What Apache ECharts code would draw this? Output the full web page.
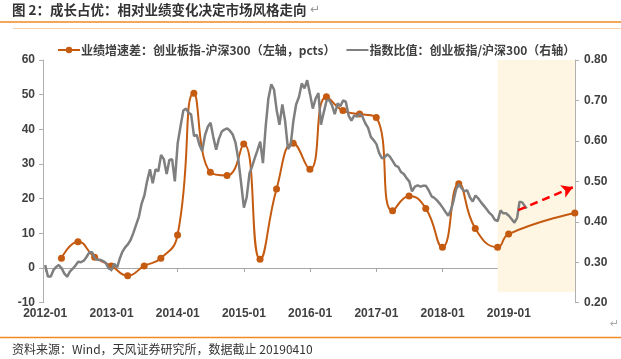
<!DOCTYPE html>
<html><head><meta charset="utf-8">
<script src="https://cdn.jsdelivr.net/npm/echarts@6/dist/echarts.min.js"></script>
<style>html,body{margin:0;padding:0;background:#fff}#c{width:621px;height:359px}</style>
</head><body><div id="c"></div>
<script>
// ---- data ----
const titleText = '图 2：成长占优：相对业绩变化决定市场风格走向';
const sourceText = '资料来源：Wind，天风证券研究所，数据截止 20190410';
const seriesNames = ['业绩增速差：创业板指-沪深300（左轴，pcts）', '指数比值：创业板指/沪深300（右轴）'];

const orangeDates = ['2012-03-31','2012-06-30','2012-09-30','2012-12-31',
  '2013-03-31','2013-06-30','2013-09-30','2013-12-31',
  '2014-03-31','2014-06-30','2014-09-30','2014-12-31',
  '2015-03-31','2015-06-30','2015-09-30','2015-12-31',
  '2016-03-31','2016-06-30','2016-09-30','2016-12-31',
  '2017-03-31','2017-06-30','2017-09-30','2017-12-31',
  '2018-03-31','2018-06-30','2018-10-31','2018-12-31','2019-12-31'];
const orangeValues = [2.8,7.6,3.1,0.6,
  -2.2,0.6,2.8,9.5,
  50.4,27.6,26.7,35.8,
  2.5,22.8,36.0,28.5,
  49.4,45.4,44.4,43.4,
  16.5,20.8,17.2,6.0,
  24.3,11.4,6.0,9.8,15.9];

// ratio, sampled on the 1st and 16th of each month from 2012-01-01, plus the last day
const grayStartYear = 2012;
const grayLastDate = '2019-04-10';
const grayValues = [
  0.293,0.265,0.265,0.281,0.288,0.293,0.285,0.272,0.264,0.277,
  0.284,0.292,0.301,0.300,0.304,0.313,0.325,0.325,0.310,0.306,
  0.306,0.303,0.298,0.285,0.281,0.296,0.287,0.310,0.325,0.336,
  0.344,0.355,0.372,0.392,0.413,0.445,0.465,0.500,0.530,0.495,
  0.530,0.525,0.565,0.555,0.518,0.553,0.555,0.500,0.595,0.635,
  0.675,0.680,0.670,0.665,0.612,0.615,0.590,0.575,0.615,0.635,
  0.645,0.610,0.578,0.605,0.623,0.628,0.631,0.625,0.615,0.595,
  0.555,0.498,0.435,0.460,0.520,0.538,0.556,0.576,0.598,0.545,
  0.635,0.705,0.740,0.727,0.675,0.640,0.690,0.650,0.580,0.590,
  0.650,0.690,0.709,0.742,0.730,0.750,0.715,0.680,0.705,0.718,
  0.640,0.670,0.700,0.701,0.688,0.666,0.693,0.686,0.700,0.697,
  0.662,0.650,0.663,0.660,0.667,0.660,0.643,0.632,0.610,0.602,
  0.592,0.570,0.557,0.560,0.567,0.561,0.550,0.539,0.536,0.523,
  0.518,0.508,0.500,0.475,0.487,0.490,0.487,0.489,0.489,0.478,
  0.463,0.459,0.453,0.445,0.435,0.425,0.415,0.430,0.450,0.480,
  0.493,0.483,0.475,0.478,0.460,0.450,0.465,0.458,0.448,0.440,
  0.431,0.422,0.416,0.405,0.402,0.428,0.421,0.421,0.415,0.407,
  0.398,0.410,0.450,0.448,0.438,
  0.433];

const yearTicks = [2012,2013,2014,2015,2016,2017,2018,2019];
const leftAxis = {min: -10, max: 60, interval: 10};
const rightAxis = {min: 0.2, max: 0.8, interval: 0.1};
const xRange = ['2011-12-20', '2020-01-01'];
const shade = {from: '2018-10-31', to: '2020-01-01', bottom: -7, top: 60};
const arrowFrom = ['2019-02-22', 16.7];
const arrowTo = ['2019-12-20', 23.3];

// ---- build ----
function pad(n){return (n<10?'0':'')+n;}
function ts(s){const p = s.split('-').map(Number); return Date.UTC(p[0], p[1]-1, p[2]);}
const grayDates = [];
for (let k = 0; k < grayValues.length - 1; k++) {
  const y = grayStartYear + Math.floor(k / 24);
  const m = Math.floor((k % 24) / 2) + 1;
  const d = (k % 2) ? 16 : 1;
  grayDates.push(y + '-' + pad(m) + '-' + pad(d));
}
grayDates.push(grayLastDate);

const grayData = grayValues.map((v, i) => [ts(grayDates[i]), v]);
const orangeData = orangeValues.map((v, i) => [ts(orangeDates[i]), v]);
const tickTimes = yearTicks.map(y => Date.UTC(y, 0, 1));
const xMin = ts(xRange[0]), xMax = ts(xRange[1]);

const ORANGE = '#C55A11', GRAY = '#7F7F7F', TXT = '#404040', AX = '#B0B0B0';
const numFont = "'Liberation Sans', Arial, sans-serif";
const cjkFont = "'Noto Sans CJK SC', sans-serif";

const chart = echarts.init(document.getElementById('c'), null, {renderer: 'canvas'});
chart.setOption({
  animation: false,
  backgroundColor: '#fff',
  grid: {left: 43, right: 46, top: 60, bottom: 56.3, containLabel: false},
  legend: {
    data: [{name: seriesNames[0]}, {name: seriesNames[1], itemStyle: {opacity: 0}}],
    left: 52, top: 39, itemWidth: 22, itemHeight: 8, itemGap: 10,
    textStyle: {fontFamily: cjkFont, fontSize: 12, fontWeight: 'bold', color: TXT, padding: [0,0,0,-4]}
  },
  xAxis: [
    {type: 'value', min: xMin, max: xMax, position: 'bottom',
     axisLine: {show: true, onZero: true, onZeroAxisIndex: 0, lineStyle: {color: '#A6A6A6', width: 1}},
     axisTick: {show: true, customValues: tickTimes, length: 4, lineStyle: {color: '#A6A6A6'}},
     axisLabel: {show: false}, splitLine: {show: false}},
    {type: 'value', min: xMin, max: xMax, position: 'bottom',
     axisLine: {show: false, onZero: false}, axisTick: {show: false},
     axisLabel: {show: true, customValues: tickTimes, margin: 5, fontFamily: numFont, fontSize: 12, fontWeight: 'bold', color: TXT,
       formatter: v => new Date(v).getUTCFullYear() + '-01', hideOverlap: false},
     splitLine: {show: false}}
  ],
  yAxis: [
    {type: 'value', min: leftAxis.min, max: leftAxis.max, interval: leftAxis.interval, position: 'left',
     axisLine: {show: true, onZero: false, lineStyle: {color: AX}},
     axisTick: {show: true, length: 4, lineStyle: {color: AX}},
     axisLabel: {margin: 8, fontFamily: numFont, fontSize: 12, fontWeight: 'bold', color: TXT},
     splitLine: {show: false}},
    {type: 'value', min: rightAxis.min, max: rightAxis.max, interval: rightAxis.interval, position: 'right',
     axisLine: {show: true, onZero: false, lineStyle: {color: AX}},
     axisTick: {show: true, length: 4, lineStyle: {color: AX}},
     axisLabel: {margin: 9, fontFamily: numFont, fontSize: 12, fontWeight: 'bold', color: TXT, formatter: v => v.toFixed(2)},
     splitLine: {show: false}}
  ],
  series: [
    {name: seriesNames[0], type: 'line', xAxisIndex: 0, yAxisIndex: 0, data: orangeData,
     smooth: 0.5, symbol: 'circle', symbolSize: 7, z: 3,
     lineStyle: {color: ORANGE, width: 2}, itemStyle: {color: ORANGE},
     markArea: {silent: true, itemStyle: {color: '#FEF6E2'},
       data: [[{xAxis: ts(shade.from), yAxis: shade.bottom}, {xAxis: ts(shade.to), yAxis: shade.top}]]},
     markLine: {silent: true, symbol: ['none', 'arrow'], symbolSize: [10, 11],
       lineStyle: {color: '#FF0000', type: [8, 5], width: 2.5}, label: {show: false},
       data: [[{coord: [ts(arrowFrom[0]), arrowFrom[1]]}, {coord: [ts(arrowTo[0]), arrowTo[1]]}]]}
    },
    {name: seriesNames[1], type: 'line', xAxisIndex: 0, yAxisIndex: 1, data: grayData,
     symbol: 'none', z: 4, lineStyle: {color: GRAY, width: 2.5}, itemStyle: {color: GRAY}}
  ],
  graphic: [
    {type: 'text', left: 12, top: 3, style: {text: titleText, font: "bold 13.5px 'Noto Sans CJK SC'", fill: '#333'}},
    {type: 'text', left: 310, top: 4, style: {text: '↵', font: "12px 'DejaVu Sans'", fill: '#999'}},
    {type: 'line', shape: {x1: 0, y1: 22, x2: 621, y2: 22}, style: {stroke: '#F08A24', lineWidth: 1.5}},
    {type: 'line', shape: {x1: 13, y1: 28.5, x2: 621, y2: 28.5}, style: {stroke: '#F9CFA8', lineWidth: 1}},
    {type: 'text', left: 610, top: 319, style: {text: '↵', font: "11px 'DejaVu Sans'", fill: '#AAA'}},
    {type: 'line', shape: {x1: 0, y1: 337.5, x2: 621, y2: 337.5}, style: {stroke: '#F08A24', lineWidth: 1.5}},
    {type: 'text', left: 12, top: 343, style: {text: sourceText, font: "12px 'Noto Sans CJK SC'", fill: '#333'}},
    {type: 'text', left: 289, top: 344, style: {text: '↵', font: "10px 'DejaVu Sans'", fill: '#999'}}
  ]
});
</script></body></html>
